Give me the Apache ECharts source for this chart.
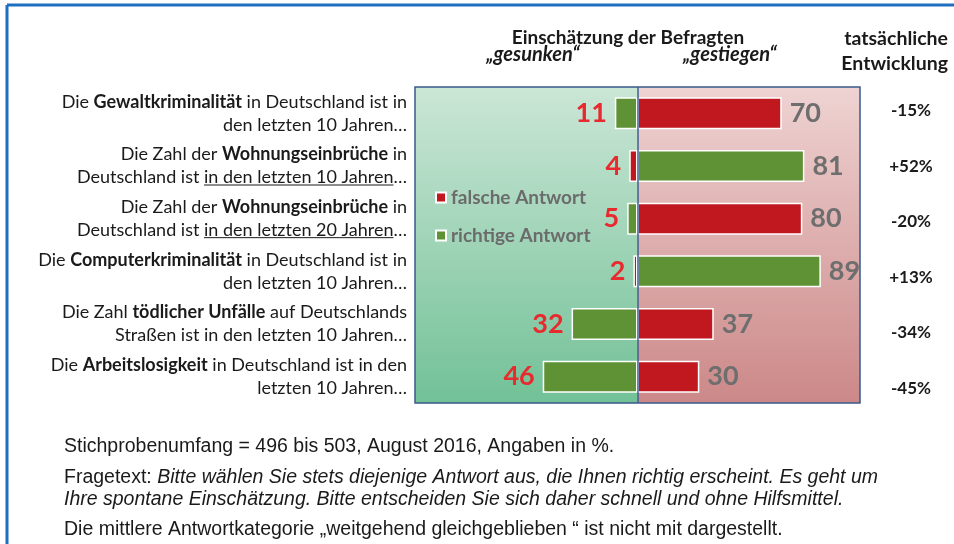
<!DOCTYPE html>
<html>
<head>
<meta charset="utf-8">
<title>Einschätzung der Befragten</title>
<script src="https://cdn.jsdelivr.net/npm/echarts@6/dist/echarts.min.js"></script>
<style>
  html, body { margin: 0; padding: 0; background: #fff; }
  #main { width: 954px; height: 544px; }
</style>
</head>
<body>
<div id="main"></div>
<script>
// Zeilen (rich text: b = fett)
var categories = [
  '{n|Die }{b|Gewaltkriminalität}{n| in Deutschland ist in}\n{n|den letzten 10 Jahren…}',
  '{n|Die Zahl der }{b|Wohnungseinbrüche}{n| in}\n{n|Deutschland ist in den letzten 10 Jahren…}',
  '{n|Die Zahl der }{b|Wohnungseinbrüche}{n| in}\n{n|Deutschland ist in den letzten 20 Jahren…}',
  '{n|Die }{b|Computerkriminalität}{n| in Deutschland ist in}\n{n|den letzten 10 Jahren…}',
  '{n|Die Zahl }{b|tödlicher Unfälle}{n| auf Deutschlands}\n{n|Straßen ist in den letzten 10 Jahren…}',
  '{n|Die }{b|Arbeitslosigkeit}{n| in Deutschland ist in den}\n{n|letzten 10 Jahren…}'
];
var underlined = [null, 'in den letzten 10 Jahren', 'in den letzten 20 Jahren', null, null, null];
var gesunken  = [11, 4, 5, 2, 32, 46];
var gestiegen = [70, 81, 80, 89, 37, 30];
var entwicklung = [-15, 52, -20, 13, -34, -45];
var entwicklungLabels = ['-15%', '+52%', '-20%', '+13%', '-34%', '-45%'];

var RED = '#c1171f', GREEN = '#5f9135';
var labelFont = 'Lato';
var rowFontSize = 18;

function labelFor(v) {
  return {
    show: true,
    position: v < 0 ? 'left' : 'right',
    distance: 8,
    color: v < 0 ? '#e8292e' : '#6e6e6e',
    fontFamily: labelFont,
    fontWeight: 'bold',
    fontSize: 27,
    formatter: function (p) { return Math.abs(p.value); }
  };
}

var falsch = [], richtig = [];
for (var i = 0; i < categories.length; i++) {
  var fv, rv;
  if (entwicklung[i] < 0) { fv = gestiegen[i]; rv = -gesunken[i]; }
  else { fv = -gesunken[i]; rv = gestiegen[i]; }
  falsch.push({ value: fv, label: labelFor(fv) });
  richtig.push({ value: rv, label: labelFor(rv) });
}

var chart = echarts.init(document.getElementById('main'));

var option = {
  animation: false,
  grid: [
    {
      left: 415, right: 94, top: 87, bottom: 141,
      show: true, z: 5,
      backgroundColor: 'transparent',
      borderColor: '#3a5a8a', borderWidth: 1.5
    },
    // eigene Spalte rechts für die tatsächliche Entwicklung
    { left: 415, right: 94, top: 83, bottom: 128 }
  ],
  legend: {
    orient: 'vertical',
    left: 430, top: 183,
    itemWidth: 10, itemHeight: 10, itemGap: 19,
    icon: 'rect',
    textStyle: { color: '#6b6b6b', fontFamily: labelFont, fontWeight: 'bold', fontSize: 19 },
    data: ['falsche Antwort', 'richtige Antwort']
  },
  xAxis: [
    { type: 'value', min: -108, max: 108, show: false, gridIndex: 0 },
    { type: 'value', min: 0, max: 1, show: false, gridIndex: 1 }
  ],
  yAxis: [
    {
      type: 'category', inverse: true, data: categories, gridIndex: 0,
      axisLine: { show: false }, axisTick: { show: false },
      axisLabel: {
        margin: 8, align: 'right', lineHeight: 23,
        rich: {
          n: { fontFamily: labelFont, fontSize: rowFontSize, color: '#1a1a1a', lineHeight: 23 },
          b: { fontFamily: labelFont, fontSize: rowFontSize, color: '#1a1a1a', fontWeight: 'bold', lineHeight: 23 }
        }
      }
    },
    {
      type: 'category', inverse: true, position: 'right', data: entwicklungLabels, gridIndex: 1,
      axisLine: { show: false }, axisTick: { show: false }, splitLine: { show: false },
      axisLabel: {
        margin: 51, align: 'center',
        fontFamily: labelFont, fontWeight: 'bold', fontSize: 17, color: '#1a1a1a'
      }
    }
  ],
  series: [
    {
      name: 'falsche Antwort', type: 'bar', barWidth: 32, barGap: '-100%',
      itemStyle: { color: RED, borderColor: '#ffffff', borderWidth: 1.5 },
      data: falsch,
      markArea: {
        silent: true,
        data: [
          [{ xAxis: -108, itemStyle: { color: new echarts.graphic.LinearGradient(0, 0, 0, 1, [
              { offset: 0, color: '#cbe6d6' }, { offset: 1, color: '#72c197' }]) } }, { xAxis: 0 }],
          [{ xAxis: 0, itemStyle: { color: new echarts.graphic.LinearGradient(0, 0, 0, 1, [
              { offset: 0, color: '#eed3d2' }, { offset: 1, color: '#cc8888' }]) } }, { xAxis: 108 }]
        ]
      }
    },
    {
      name: 'richtige Antwort', type: 'bar', barWidth: 32,
      itemStyle: { color: GREEN, borderColor: '#ffffff', borderWidth: 1.5 },
      data: richtig,
      markLine: {
        silent: true, symbol: 'none', label: { show: false },
        lineStyle: { color: '#3f5f90', width: 1.5, type: 'solid' },
        data: [{ xAxis: 0 }]
      }
    }
  ]
};
chart.setOption(option);

// Überschriften, Rahmen, Fußnoten, Unterstreichungen
var foot = '19.5px "Liberation Sans"';
var footItalic = 'italic 19.5px "Liberation Sans"';
var graphics = [
  { type: 'line', shape: { x1: 7, y1: 5, x2: 954, y2: 5 }, style: { stroke: '#1f6fc0', lineWidth: 3 } },
  { type: 'line', shape: { x1: 7, y1: 5, x2: 7, y2: 544 }, style: { stroke: '#1f6fc0', lineWidth: 3 } },
  { type: 'text', x: 628, y: 38, style: { text: 'Einschätzung der Befragten', align: 'center', verticalAlign: 'middle',
      font: 'bold 19px Lato', fill: '#1a1a1a' } },
  { type: 'text', x: 533, y: 55, style: { text: '„gesunken“', align: 'center', verticalAlign: 'middle',
      font: 'italic bold 20px Lato', fill: '#1a1a1a' } },
  { type: 'text', x: 730, y: 55, style: { text: '„gestiegen“', align: 'center', verticalAlign: 'middle',
      font: 'italic bold 20px Lato', fill: '#1a1a1a' } },
  { type: 'text', x: 948, y: 39, style: { text: 'tatsächliche', align: 'right', verticalAlign: 'middle',
      font: 'bold 19.5px Lato', fill: '#1a1a1a' } },
  { type: 'text', x: 948, y: 64, style: { text: 'Entwicklung', align: 'right', verticalAlign: 'middle',
      font: 'bold 19.5px Lato', fill: '#1a1a1a' } },
  { type: 'text', x: 64, y: 447, style: { text: 'Stichprobenumfang = 496 bis 503, August 2016, Angaben in %.',
      verticalAlign: 'middle', font: foot, fill: '#1a1a1a' } },
  { type: 'text', x: 64, y: 478, style: {
      text: '{n|Fragetext: }{i|Bitte wählen Sie stets diejenige Antwort aus, die Ihnen richtig erscheint. Es geht um}',
      verticalAlign: 'middle',
      rich: { n: { font: foot, fill: '#1a1a1a' }, i: { font: footItalic, fill: '#1a1a1a' } } } },
  { type: 'text', x: 64, y: 500, style: { text: 'Ihre spontane Einschätzung. Bitte entscheiden Sie sich daher schnell und ohne Hilfsmittel.',
      verticalAlign: 'middle', font: footItalic, fill: '#1a1a1a' } },
  { type: 'text', x: 64, y: 530, style: { text: 'Die mittlere Antwortkategorie „weitgehend gleichgeblieben “ ist nicht mit dargestellt.',
      verticalAlign: 'middle', font: foot, fill: '#1a1a1a' } }
];

var ctx = document.createElement('canvas').getContext('2d');
ctx.font = rowFontSize + 'px Lato';
var textRight = 415 - 8;
for (var k = 0; k < underlined.length; k++) {
  if (!underlined[k]) continue;
  var cy = chart.convertToPixel({ gridIndex: 0 }, [0, k])[1];
  var x2 = textRight - ctx.measureText('…').width;
  var x1 = x2 - ctx.measureText(underlined[k]).width;
  graphics.push({ type: 'line', shape: { x1: x1, y1: cy + 19, x2: x2, y2: cy + 19 },
    style: { stroke: '#1a1a1a', lineWidth: 1 } });
}
chart.setOption({ graphic: graphics });
</script>
</body>
</html>
